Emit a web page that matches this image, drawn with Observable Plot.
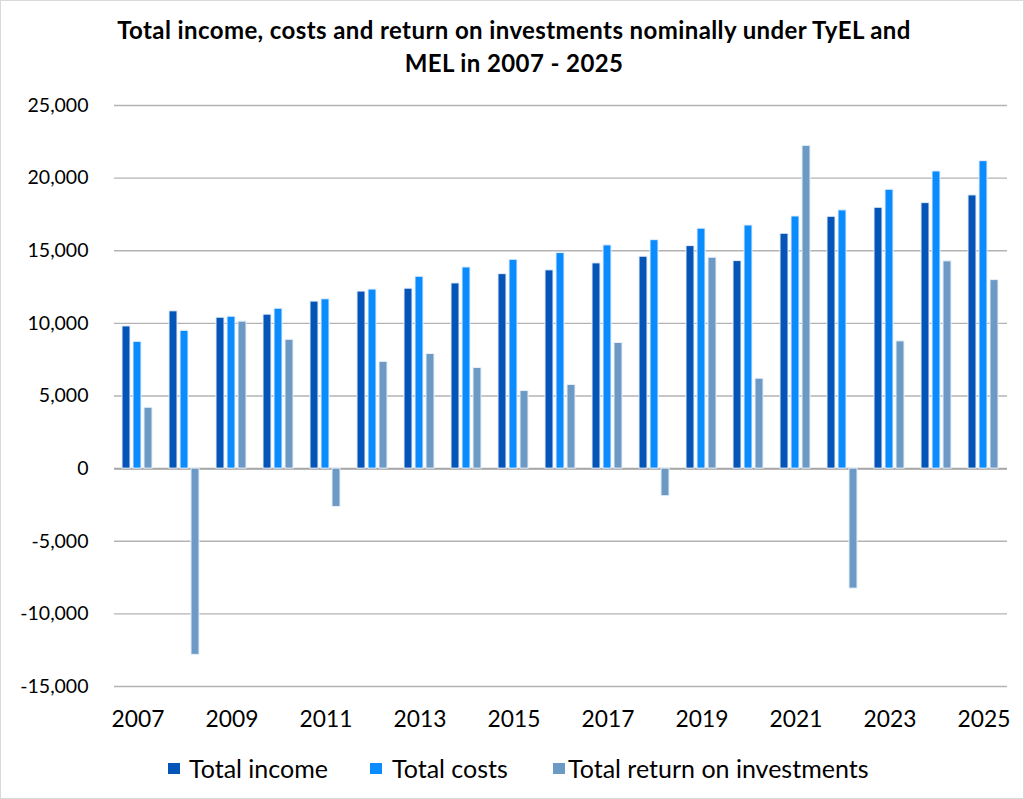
<!DOCTYPE html>
<html><head><meta charset="utf-8">
<script src="https://cdn.jsdelivr.net/npm/d3@7"></script>
<script src="https://cdn.jsdelivr.net/npm/@observablehq/plot@0.6"></script>
<style>
html,body{margin:0;padding:0;background:#fff;}
#wrap{width:1022px;height:797px;border:1px solid #d9d9d9;position:relative;overflow:hidden;font-family:Lato, "Open Sans", sans-serif;color:#000;}
#title{position:absolute;left:0;top:12px;width:1026px;text-align:center;font-weight:bold;font-size:24px;letter-spacing:0.4px;line-height:33px;}
#chart{position:absolute;left:0;top:85px;}
#legend{position:absolute;left:0;top:749px;width:1022px;height:36px;font-size:25px;line-height:36px;}
.item{position:absolute;top:0;display:flex;align-items:center;white-space:nowrap;}
.sw{width:12px;height:11px;flex:none;}
</style></head><body>
<div id="wrap">
<div id="title">Total income, costs and return on investments nominally under TyEL and<br>MEL in 2007 - 2025</div>
<div id="chart"></div>
<div id="legend"></div>
</div>
<script>
const years = [2007,2008,2009,2010,2011,2012,2013,2014,2015,2016,2017,2018,2019,2020,2021,2022,2023,2024,2025];
const totalIncome = [9790,10830,10390,10600,11500,12190,12390,12750,13390,13650,14130,14590,15320,14290,16170,17340,17960,18280,18810];
const totalCosts  = [8730,9490,10460,11010,11660,12330,13210,13850,14380,14840,15370,15730,16520,16740,17360,17780,19200,20460,21170];
const totalReturn = [4190,-12820,10120,8870,-2640,7350,7890,6930,5340,5760,8650,-1900,14520,6190,22220,-8260,8760,14270,12980];
const seriesNames = ["Total income","Total costs","Total return on investments"];
const seriesColors = ["#0455b7","#0a8cff","#6c9ac4"];
const yTicks = [-15000,-10000,-5000,0,5000,10000,15000,20000,25000];
const xTickYears = [2007,2009,2011,2013,2015,2017,2019,2021,2023,2025];

const seriesValues = [totalIncome, totalCosts, totalReturn];
const rows = [];
years.forEach((yr, i) => {
  seriesNames.forEach((s, j) => rows.push({year: yr, series: s, value: seriesValues[j][i]}));
});

const chart = Plot.plot({
  width: 1022,
  height: 650,
  marginTop: 19,
  marginBottom: 50,
  marginLeft: 112,
  marginRight: 15,
  style: {fontFamily: "Lato, 'Open Sans', sans-serif", fontSize: "20px", color: "#000", background: "#fff"},
  fx: {domain: years, paddingInner: 0, paddingOuter: 0, label: null, axis: null},
  x: {domain: seriesNames, axis: null, paddingInner: 0.23, paddingOuter: 0.62},
  y: {domain: [-15000, 25000], axis: null},
  color: {domain: seriesNames, range: seriesColors},
  marks: [
    Plot.gridY(yTicks, {stroke: "#b3b3b3", strokeOpacity: 1, strokeWidth: 1.3}),
    Plot.ruleY([0], {stroke: "#a6a6a6", strokeWidth: 2}),
    Plot.barY(rows, {fx: "year", x: "series", y: "value", fill: "series", stroke: "#e8f0fa", strokeWidth: 1}),
    Plot.axisY({ticks: yTicks, tickSize: 0, tickPadding: 26, tickFormat: d => d.toLocaleString("en-US"), fontSize: 19.5, label: null}),
    Plot.axisFx({tickSize: 0, tickPadding: 24, fontSize: 22.8, anchor: "bottom", label: null, tickFormat: d => xTickYears.includes(d) ? String(d) : ""})
  ]
});
document.getElementById("chart").appendChild(chart);

const legend = document.getElementById("legend");
const legendLeft = [167, 369, 552];
const swatchGap = [9, 10, 3];
seriesNames.forEach((s, j) => {
  const it = document.createElement("div");
  it.className = "item";
  it.style.left = legendLeft[j] + "px";
  const sw = document.createElement("span");
  sw.className = "sw";
  sw.style.background = seriesColors[j];
  sw.style.marginRight = swatchGap[j] + "px";
  const t = document.createElement("span");
  t.textContent = s;
  it.appendChild(sw); it.appendChild(t);
  legend.appendChild(it);
});
</script>
</body></html>
